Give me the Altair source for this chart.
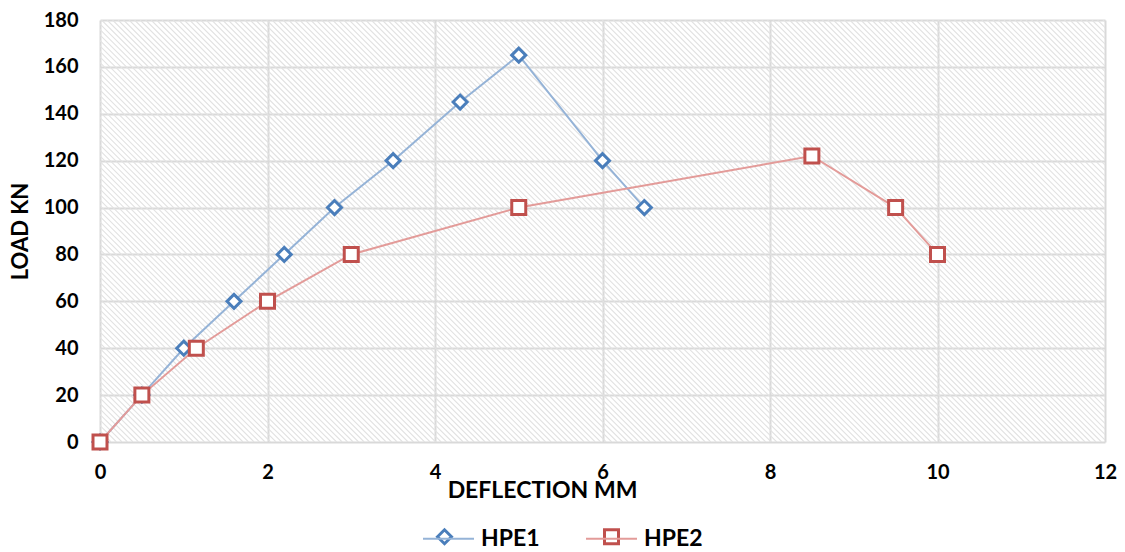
import altair as alt
import pandas as pd

# Data
hpe1_deflection = [0, 0.5, 1.0, 1.6, 2.2, 2.8, 3.5, 4.3, 5.0, 6.0, 6.5]
hpe1_load = [0, 20, 40, 60, 80, 100, 120, 145, 165, 120, 100]
hpe2_deflection = [0, 0.5, 1.15, 2.0, 3.0, 5.0, 8.5, 9.5, 10.0]
hpe2_load = [0, 20, 40, 60, 80, 100, 122, 100, 80]
series_names = ["HPE1", "HPE2"]
x_ticks = [0, 2, 4, 6, 8, 10, 12]
y_ticks = [0, 20, 40, 60, 80, 100, 120, 140, 160, 180]

line_colors = ["#95b3d7", "#e39b99"]
marker_colors = ["#4a7ebb", "#c0504d"]

rows = []
for d, l in zip(hpe1_deflection, hpe1_load):
    rows.append({"series": series_names[0], "deflection": d, "load": l, "order": len(rows)})
for d, l in zip(hpe2_deflection, hpe2_load):
    rows.append({"series": series_names[1], "deflection": d, "load": l, "order": len(rows)})
df = pd.DataFrame(rows)

FONT = "Lato"
W, H = 1005, 422

x_axis = alt.Axis(
    values=x_ticks, grid=True, gridColor="#d9d9d9", gridWidth=2, domain=False, ticks=False,
    labelFont=FONT, labelFontSize=20, labelFontWeight="bold", labelColor="#000000", labelPadding=20,
    labelFlush=False,
    title="DEFLECTION MM", titleFont=FONT, titleFontSize=23, titleFontWeight="bold", titleColor="#000000",
    titleX=442, titleY=55, titleAlign="center", titleBaseline="alphabetic",
)
y_axis = alt.Axis(
    values=y_ticks, grid=True, gridColor="#d9d9d9", gridWidth=2, domain=False, ticks=False,
    labelFont=FONT, labelFontSize=20, labelFontWeight="bold", labelColor="#000000", labelPadding=22,
    labelFlush=False,
    title="LOAD KN", titleFont=FONT, titleFontSize=22, titleFontWeight="bold", titleColor="#000000",
    titleX=-80, titleY=211, titleAngle=270, titleAlign="center", titleBaseline="middle",
)
x_scale = alt.Scale(domain=[0, 12], nice=False, zero=False)
y_scale = alt.Scale(domain=[0, 180], nice=False, zero=False)

# decorative diagonal hatching of the plot background
hatch = (
    alt.Chart(alt.sequence(0, 262, as_="k"))
    .transform_calculate(hx="-5.04 + datum.k * 0.0657", hx2="datum.hx + 5.04")
    .mark_rule(clip=True, color="#e2e2e2", strokeWidth=1.1)
    .encode(
        x=alt.X("hx:Q", scale=x_scale, axis=x_axis),
        x2="hx2:Q",
        y=alt.value(0),
        y2=alt.value(H),
    )
)

lines = (
    alt.Chart(df)
    .mark_line(strokeWidth=2)
    .encode(
        x=alt.X("deflection:Q", scale=x_scale, axis=x_axis),
        y=alt.Y("load:Q", scale=y_scale, axis=y_axis),
        order="order:Q",
        color=alt.Color(
            "series:N",
            scale=alt.Scale(range=line_colors),
            legend=alt.Legend(
                title=None, orient="none", direction="horizontal", legendX=322, legendY=492,
                symbolType="stroke", symbolSize=2601, symbolStrokeWidth=2,
                labelFont=FONT, labelFontSize=23, labelFontWeight="bold", labelColor="#000000",
                labelOffset=6, columnPadding=42,
            ),
        ),
    )
)

points = (
    alt.Chart(df)
    .transform_calculate(name="datum.series")
    .mark_point(filled=True, fill="white", strokeWidth=3, size=196, opacity=1)
    .encode(
        x=alt.X("deflection:Q", scale=x_scale, axis=x_axis),
        y=alt.Y("load:Q", scale=y_scale, axis=y_axis),
        order="order:Q",
        stroke=alt.Stroke("name:N", scale=alt.Scale(range=marker_colors),
                          legend=alt.Legend(
                              title=None, orient="none", direction="horizontal", legendX=333, legendY=505,
                              symbolFillColor="white", symbolStrokeWidth=3, symbolSize=196,
                              labelExpr="''", labelFontSize=23,
                              labelOffset=25, columnPadding=117,
                          )),
        shape=alt.Shape("name:N", scale=alt.Scale(range=["diamond", "square"])),
    )
)

chart = (
    alt.layer(hatch, lines, points)
    .resolve_scale(color="independent")
    .properties(
        width=W,
        height=H,
        autosize=alt.AutoSizeParams(type="none"),
        padding={"left": 100, "top": 20, "right": 20, "bottom": 110},
        background="white",
    )
    .configure_view(stroke=None)
)

chart.save("out.html", embed_options={"renderer": "svg", "actions": False})
